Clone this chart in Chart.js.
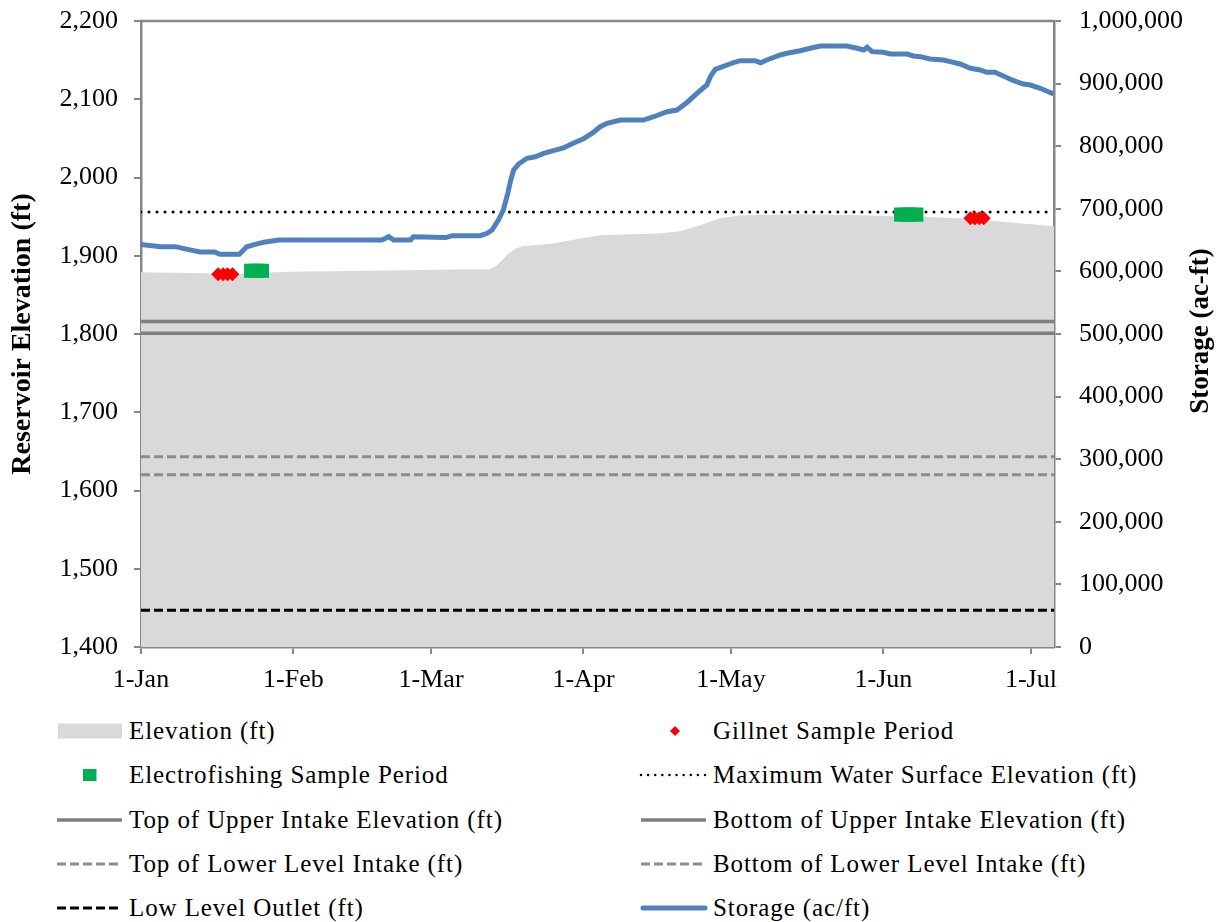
<!DOCTYPE html>
<html>
<head>
<meta charset="utf-8">
<script src="https://cdn.jsdelivr.net/npm/chart.js@4"></script>
<style>
  body { margin: 0; background: #fff; }
  #wrap { position: relative; width: 1216px; height: 922px; font-family: "Liberation Serif", "Times New Roman", serif; }
  #chart { position: absolute; left: 0; top: 0; }
  .lg { position: absolute; height: 30px; line-height: 30px; font-size: 25px; letter-spacing: 0.9px; color: #000; white-space: nowrap; }
  .lg svg { position: absolute; top: 5px; }
  .lg span { position: absolute; top: 0; }
</style>
</head>
<body>
<div id="wrap">
  <canvas id="chart" width="1216" height="700"></canvas>
  <div id="legend"></div>
</div>
<script>
  // x axis: days since 1-Jan
  const monthDays = [0, 31, 59, 90, 120, 151, 181];
  const monthLabels = ['1-Jan', '1-Feb', '1-Mar', '1-Apr', '1-May', '1-Jun', '1-Jul'];
  const dayMax = 185.7;

  // reservoir elevation (ft)
  const elevDays = [0, 10, 20, 30, 50, 63, 71, 72.4, 74.4, 76.1, 77.8, 83.9, 89.3, 93.4, 100, 105, 109.7, 113.7, 117.8, 122, 135, 146.3, 160, 167, 173.4, 185.7];
  const elevFt = [1879, 1878, 1877, 1879.5, 1881, 1882.3, 1882.7, 1887.8, 1900.6, 1909.1, 1912.5, 1915.5, 1921.9, 1926.1, 1927.4, 1928.5, 1931.2, 1938.9, 1947.9, 1951.7, 1953, 1951.7, 1949.5, 1947.5, 1944.4, 1937.6];

  // storage (ac-ft)
  const storageDays = [0, 4, 7, 9, 12, 15, 16, 20, 21.5, 23.6, 25, 28, 49, 50.4, 51.4, 54.8, 55.4, 62, 63.3, 69, 70.4, 71.4, 72.7, 73.7, 74.6, 75.2, 75.8, 76.8, 78.5, 80.2, 81.9, 83.9, 85.9, 88, 90, 92, 93.4, 94.8, 97.5, 102.2, 104.3, 107, 109, 111, 113.7, 115.1, 115.8, 116.8, 119.2, 120.5, 121.9, 124.9, 126, 127.3, 130, 131.4, 134.1, 136.1, 138.2, 143.6, 145.6, 147, 147.7, 148.7, 151, 152.4, 155.8, 157.1, 158.5, 160.5, 163.2, 164.6, 166.6, 168.7, 170.7, 172, 173.7, 175.4, 177.5, 179.5, 180.9, 182.9, 185.6];
  const storageAcFt = [643000, 639500, 639500, 636000, 631000, 631000, 627300, 627300, 639400, 644000, 646500, 650200, 650200, 655400, 650200, 650200, 655400, 654000, 657000, 657000, 660800, 666100, 682100, 698100, 724700, 746000, 762000, 771500, 780700, 783200, 788600, 792800, 797100, 805000, 812000, 822000, 831100, 836600, 841800, 841800, 847100, 855100, 857800, 869500, 888600, 897700, 911000, 922800, 929700, 933400, 936600, 936600, 933400, 937700, 945700, 948400, 952500, 956400, 960000, 960000, 956400, 953600, 958000, 951000, 950000, 947300, 947300, 944100, 943000, 939300, 937700, 935000, 931300, 924400, 921700, 918000, 918000, 912100, 904600, 899300, 897700, 892500, 883400];

  // sample periods
  const gillnetDays = [15.7, 16.7, 17.6, 18.6, 168.7, 169.6, 170.5, 171.4];
  const gillnetFt = [1876.3, 1876.3, 1876.3, 1876.3, 1947.9, 1947.9, 1947.9, 1947.9];
  const electroDays = [22.4, 23.5, 24.6, 154.6, 155.6, 156.6, 157.7];
  const electroFt = [1880.8, 1880.8, 1880.8, 1952.6, 1952.6, 1952.6, 1952.6];

  // fixed structure levels (ft)
  const levelNames = ['Maximum Water Surface Elevation (ft)', 'Top of Upper Intake Elevation (ft)', 'Bottom of Upper Intake Elevation (ft)', 'Top of Lower Level Intake (ft)', 'Bottom of Lower Level Intake (ft)', 'Low Level Outlet (ft)'];
  const levelFt = [1956, 1816, 1801, 1643, 1620, 1447];

  const pts = (xs, ys) => xs.map((x, i) => ({ x: x, y: ys[i] }));

  const axisGray = '#868686';
  const levelStyles = [
    { borderColor: '#000', borderWidth: 3, borderDash: [0.01, 8], borderCapStyle: 'round' },
    { borderColor: '#808080', borderWidth: 3.5 },
    { borderColor: '#808080', borderWidth: 3.5 },
    { borderColor: '#8c8c8c', borderWidth: 3, borderDash: [9, 4] },
    { borderColor: '#8c8c8c', borderWidth: 3, borderDash: [9, 4] },
    { borderColor: '#000', borderWidth: 3, borderDash: [9, 4] }
  ];

  const levelSets = levelFt.map((v, i) => Object.assign({
    label: levelNames[i],
    data: [{ x: 0, y: v }, { x: dayMax, y: v }],
    pointRadius: 0,
    fill: false,
    yAxisID: 'y',
    order: 5
  }, levelStyles[i]));

  const serif = '"Liberation Serif", "Times New Roman", serif';

  // top border of the plot box + right-hand title reading upwards
  const frame = {
    id: 'frame',
    afterDraw(chart) {
      const { ctx, chartArea } = chart;
      ctx.save();
      ctx.strokeStyle = axisGray;
      ctx.lineWidth = 2.5;
      ctx.beginPath();
      ctx.moveTo(chartArea.left - 1, chartArea.top);
      ctx.lineTo(chartArea.right + 1, chartArea.top);
      ctx.stroke();
      ctx.translate(1201, 331);
      ctx.rotate(-Math.PI / 2);
      ctx.fillStyle = '#000';
      ctx.font = 'bold 27px ' + serif;
      ctx.textAlign = 'center';
      ctx.textBaseline = 'middle';
      ctx.fillText('Storage (ac-ft)', 0, 0);
      ctx.restore();
    }
  };

  const fitY = (w) => (scale) => {
    scale.width = w;
    scale.paddingTop = 0;
    scale.paddingBottom = 0;
  };

  const config = {
    type: 'line',
    data: {
      datasets: [
        {
          label: 'Elevation (ft)',
          data: pts(elevDays, elevFt),
          backgroundColor: '#d9d9d9',
          borderWidth: 0,
          pointRadius: 0,
          fill: 'start',
          yAxisID: 'y',
          order: 10
        },
        ...levelSets,
        {
          label: 'Storage (ac/ft)',
          data: pts(storageDays, storageAcFt),
          borderColor: '#4f81bd',
          borderWidth: 5,
          pointRadius: 0,
          fill: false,
          yAxisID: 'y1',
          order: 2
        },
        {
          label: 'Electrofishing Sample Period',
          data: pts(electroDays, electroFt),
          showLine: false,
          pointStyle: 'rect',
          pointRadius: 10,
          backgroundColor: '#00b050',
          borderWidth: 0,
          yAxisID: 'y',
          order: 1
        },
        {
          label: 'Gillnet Sample Period',
          data: pts(gillnetDays, gillnetFt),
          showLine: false,
          pointStyle: 'rectRot',
          pointRadius: 7,
          backgroundColor: '#ff0000',
          borderWidth: 0,
          yAxisID: 'y',
          order: 0
        }
      ]
    },
    options: {
      responsive: false,
      animation: false,
      devicePixelRatio: 1,
      layout: { padding: { top: 21, left: 0, right: 0, bottom: 0 } },
      scales: {
        x: {
          type: 'linear',
          min: 0,
          max: dayMax,
          afterBuildTicks(scale) {
            scale.ticks = monthDays.map(d => ({ value: d }));
          },
          afterFit(scale) { scale.height = 53; },
          ticks: {
            color: '#000',
            font: { family: serif, size: 26 },
            padding: 11,
            maxRotation: 0,
            autoSkip: false,
            callback: (v) => monthLabels[monthDays.indexOf(v)]
          },
          grid: { drawOnChartArea: false, color: axisGray, lineWidth: 2, tickLength: 7 },
          border: { color: axisGray, width: 2.5 }
        },
        y: {
          position: 'left',
          min: 1400,
          max: 2200,
          afterFit: fitY(141),
          ticks: {
            stepSize: 100,
            color: '#000',
            font: { family: serif, size: 26 },
            padding: 16,
            callback: (v) => v.toLocaleString('en-US')
          },
          grid: { drawOnChartArea: false, color: axisGray, lineWidth: 2, tickLength: 7 },
          border: { color: axisGray, width: 2.5 },
          title: {
            display: true,
            text: 'Reservoir Elevation (ft)',
            color: '#000',
            font: { family: serif, size: 28, weight: 'bold' },
            padding: { top: 6, bottom: 0 }
          }
        },
        y1: {
          position: 'right',
          min: 0,
          max: 1000000,
          afterFit: fitY(162),
          ticks: {
            stepSize: 100000,
            color: '#000',
            font: { family: serif, size: 26 },
            padding: 18,
            callback: (v) => v.toLocaleString('en-US')
          },
          grid: { drawOnChartArea: false, color: axisGray, lineWidth: 2, tickLength: 7 },
          border: { color: axisGray, width: 2.5 }
        }
      },
      plugins: {
        legend: { display: false },
        tooltip: { enabled: false }
      }
    },
    plugins: [frame]
  };

  const myChart = new Chart(document.getElementById('chart'), config);

  // legend, two columns
  const rowY = [731, 775, 819.5, 864, 908];
  const sw = {
    area: '<rect x="6" y="2.5" width="64" height="15" fill="#d9d9d9"/>',
    square: '<rect x="31" y="4" width="13.5" height="12" fill="#00b050"/>',
    diamond: '<path d="M39 5 L44 10 L39 15 L34 10 Z" fill="#ff0000"/>',
    dotted: '<line x1="5" y1="10" x2="69" y2="10" stroke="#000" stroke-width="2.5" stroke-dasharray="0.01 7.1" stroke-linecap="round"/>',
    solid: '<line x1="5" y1="10" x2="70" y2="10" stroke="#808080" stroke-width="3.5"/>',
    dashGray: '<line x1="5" y1="10" x2="70" y2="10" stroke="#8c8c8c" stroke-width="3" stroke-dasharray="9 4"/>',
    dashBlack: '<line x1="5" y1="10" x2="70" y2="10" stroke="#000" stroke-width="3" stroke-dasharray="9 4"/>',
    blue: '<line x1="7" y1="10" x2="69" y2="10" stroke="#4f81bd" stroke-width="5" stroke-linecap="round"/>'
  };
  const legendItems = [
    ['Elevation (ft)', 0, 0, 'area'],
    ['Gillnet Sample Period', 1, 0, 'diamond'],
    ['Electrofishing Sample Period', 0, 1, 'square'],
    [levelNames[0], 1, 1, 'dotted'],
    [levelNames[1], 0, 2, 'solid'],
    [levelNames[2], 1, 2, 'solid'],
    [levelNames[3], 0, 3, 'dashGray'],
    [levelNames[4], 1, 3, 'dashGray'],
    [levelNames[5], 0, 4, 'dashBlack'],
    ['Storage (ac/ft)', 1, 4, 'blue']
  ];
  const colSwatch = [52, 636];
  const colText = [129, 713];
  const legend = document.getElementById('legend');
  legendItems.forEach(([text, col, row, kind]) => {
    const d = document.createElement('div');
    d.className = 'lg';
    d.style.left = '0px';
    d.style.top = (rowY[row] - 15) + 'px';
    d.innerHTML = '<svg width="76" height="20" style="left:' + colSwatch[col] + 'px">' + sw[kind] + '</svg>' +
      '<span style="left:' + colText[col] + 'px">' + text + '</span>';
    legend.appendChild(d);
  });
</script>
</body>
</html>
